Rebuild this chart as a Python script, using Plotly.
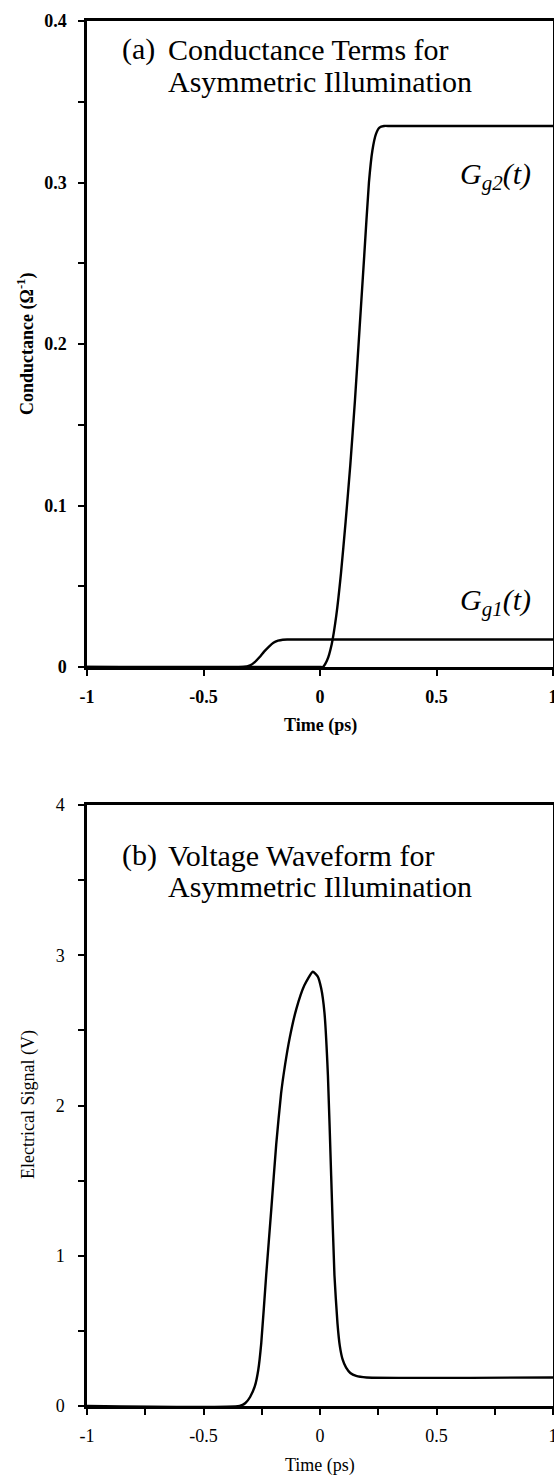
import plotly.graph_objects as go

W, H = 554, 1477
FONT = "Liberation Serif, Times New Roman, serif"

# ---- (a) conductance terms (time in ps, conductance in 1/ohm)
t_g1 = [-1.0, -0.33, -0.30, -0.28, -0.26, -0.24, -0.22, -0.20, -0.18, -0.16, -0.14, 1.0]
g_g1 = [0.0, 0.0, 0.001, 0.003, 0.006, 0.0095, 0.0125, 0.015, 0.0163, 0.0169, 0.017, 0.017]

t_g2 = [-1.0, 0.0, 0.012, 0.03, 0.05, 0.07, 0.09, 0.11, 0.13, 0.15, 0.17, 0.19,
        0.21, 0.225, 0.24, 0.255, 0.275, 0.30, 1.0]
g_g2 = [0.0, 0.0, 0.0, 0.004, 0.014, 0.032, 0.058, 0.090, 0.125, 0.165, 0.210, 0.255,
        0.300, 0.320, 0.330, 0.334, 0.335, 0.335, 0.335]

# ---- (b) voltage waveform (time in ps, volts)
t_v = [-1.0, -0.345, -0.32, -0.30, -0.28, -0.265, -0.252, -0.231, -0.209, -0.188,
       -0.167, -0.150, -0.130, -0.102, -0.067, -0.031, -0.010, 0.005, 0.019, 0.034,
       0.048, 0.062, 0.075, 0.085, 0.097, 0.112, 0.130, 0.155, 0.20, 1.0]
v_sig = [0.0, 0.0, 0.02, 0.06, 0.13, 0.24, 0.42, 0.87, 1.31, 1.74,
         2.08, 2.27, 2.45, 2.64, 2.80, 2.89, 2.86, 2.78, 2.62, 2.20,
         1.53, 0.87, 0.55, 0.40, 0.31, 0.255, 0.22, 0.20, 0.19, 0.19]

x_ticks = [-1, -0.5, 0, 0.5, 1]
x_labels = ["-1", "-0.5", "0", "0.5", "1"]
ya_ticks = [0, 0.1, 0.2, 0.3, 0.4]
ya_labels = ["0", "0.1", "0.2", "0.3", "0.4"]
yb_ticks = [0, 1, 2, 3, 4]
yb_labels = ["0", "1", "2", "3", "4"]


def px(x):
    return x / W


def py(y):
    return 1 - y / H


fig = go.Figure()
line = dict(color="black", width=2.4, shape="spline", smoothing=0.5)
fig.add_trace(go.Scatter(x=t_g1, y=g_g1, mode="lines", line=line, xaxis="x", yaxis="y"))
fig.add_trace(go.Scatter(x=t_g2, y=g_g2, mode="lines", line=line, xaxis="x", yaxis="y"))
fig.add_trace(go.Scatter(x=t_v, y=v_sig, mode="lines", line=line, xaxis="x2", yaxis="y2"))

axis_common = dict(
    showline=True, linecolor="black", linewidth=2.5, mirror=True,
    ticks="outside", ticklen=6, tickwidth=2, tickcolor="black",
    showgrid=False, zeroline=False, tickmode="array", automargin=False,
    ticklabeloverflow="allow",
)
bold_tick = dict(family=FONT, size=18, color="black", weight="bold")
reg_tick = dict(family=FONT, size=18, color="black")

fig.update_layout(
    width=W, height=H,
    margin=dict(l=0, r=0, t=0, b=0),
    paper_bgcolor="white", plot_bgcolor="white",
    showlegend=False,
    font=dict(family=FONT, color="black"),
    xaxis=dict(axis_common, domain=[px(87), px(553)], range=[-1, 1], anchor="y",
               tickvals=x_ticks, ticktext=x_labels, tickfont=bold_tick,
               ticklabelstandoff=6),
    yaxis=dict(axis_common, domain=[py(667), py(21)], range=[0, 0.4], anchor="x",
               tickvals=ya_ticks, ticktext=ya_labels, tickfont=bold_tick,
               ticklabelstandoff=8,
               minor=dict(tickmode="linear", tick0=0, dtick=0.05, ticks="outside",
                          ticklen=6, tickwidth=2, tickcolor="black")),
    xaxis2=dict(axis_common, domain=[px(87), px(553)], range=[-1, 1], anchor="y2",
                tickvals=x_ticks, ticktext=x_labels, tickfont=reg_tick,
                ticklabelstandoff=6,
                minor=dict(tickmode="linear", tick0=0, dtick=0.25, ticks="outside",
                           ticklen=6, tickwidth=2, tickcolor="black")),
    yaxis2=dict(axis_common, domain=[py(1406), py(805)], range=[0, 4], anchor="x2",
                tickvals=yb_ticks, ticktext=yb_labels, tickfont=reg_tick,
                ticklabelstandoff=10,
                minor=dict(tickmode="linear", tick0=0, dtick=0.5, ticks="outside",
                           ticklen=6, tickwidth=2, tickcolor="black")),
)

annotations = []


def note(text, x, y, size, xanchor="left", yanchor="middle", angle=0, bold=False):
    f = dict(family=FONT, size=size, color="black")
    if bold:
        f["weight"] = "bold"
    annotations.append(dict(
        text=text, x=px(x), y=py(y), xref="paper", yref="paper",
        xanchor=xanchor, yanchor=yanchor, textangle=angle, showarrow=False,
        font=f,
    ))


# panel headings
note("(a)", 120, 49, 30)
note("Conductance Terms for", 166, 49, 30)
note("Asymmetric Illumination", 166, 82, 30)
note("(b)", 120, 855, 30)
note("Voltage Waveform for", 166, 855, 30)
note("Asymmetric Illumination", 166, 887, 30)

# curve labels
note("<i>G</i><sub><i>g2</i></sub><i>(t)</i>", 458, 176, 30)
note("<i>G</i><sub><i>g1</i></sub><i>(t)</i>", 458, 602, 30)

# axis titles
note("Time (ps)", 320, 725, 18, xanchor="center", bold=True)
note("Conductance (\u03a9<sup>-1</sup>)", 26, 344, 18, xanchor="center", angle=-90, bold=True)
note("Time (ps)", 320, 1465, 18, xanchor="center")
note("Electrical Signal (V)", 28, 1105, 18, xanchor="center", angle=-90)

fig.update_layout(annotations=annotations)

fig.write_html("out.html")
